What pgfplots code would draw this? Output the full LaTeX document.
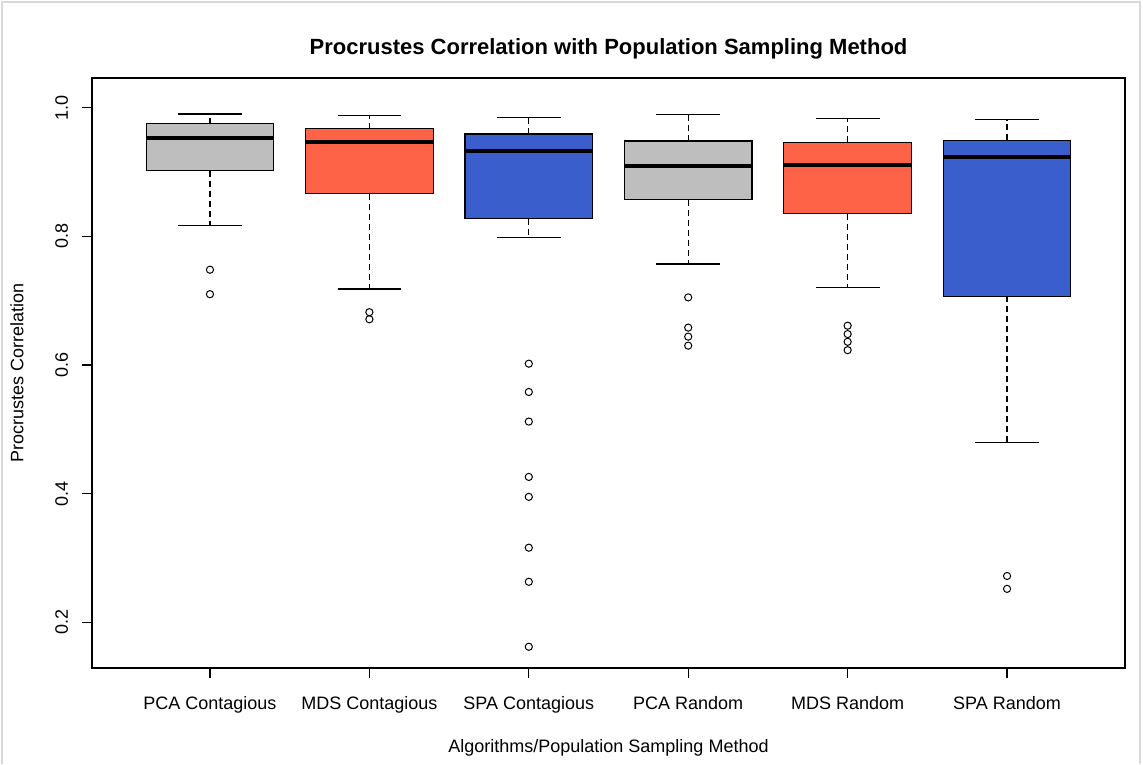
\documentclass[border=0pt]{standalone}
\usepackage{fontspec}
\setmainfont{Liberation Sans}
\usepackage{pgfplots}
\pgfplotsset{compat=1.18}
\usepgfplotslibrary{statistics}
\definecolor{rgray}{HTML}{BEBEBE}
\definecolor{rtomato}{HTML}{FF6347}
\definecolor{rblue}{HTML}{3A5FCD}
\pgfplotsset{
  rbox/.style={
    boxplot/draw direction=y,
    draw=black, line width=0.6pt, fill=#1,
    mark=o, mark size=1.8pt,
    mark options={fill=none, draw=black, line width=0.5pt, solid},
    boxplot/box extend=0.8,
    boxplot/whisker extend=0.4,
    boxplot/every median/.style={line width=2pt, black},
    boxplot/draw/lower whisker/.code={%
      \draw[black, line width=0.6pt, fill=none, dash pattern=on 3pt off 2pt]
        (boxplot box cs:\pgfplotsboxplotvalue{lower quartile},0.5)
        -- (boxplot box cs:\pgfplotsboxplotvalue{lower whisker},0.5);
      \draw[black, line width=0.6pt, fill=none]
        (boxplot whisker cs:\pgfplotsboxplotvalue{lower whisker},0)
        -- (boxplot whisker cs:\pgfplotsboxplotvalue{lower whisker},1);
    },
    boxplot/draw/upper whisker/.code={%
      \draw[black, line width=0.6pt, fill=none, dash pattern=on 3pt off 2pt]
        (boxplot box cs:\pgfplotsboxplotvalue{upper quartile},0.5)
        -- (boxplot box cs:\pgfplotsboxplotvalue{upper whisker},0.5);
      \draw[black, line width=0.6pt, fill=none]
        (boxplot whisker cs:\pgfplotsboxplotvalue{upper whisker},0)
        -- (boxplot whisker cs:\pgfplotsboxplotvalue{upper whisker},1);
    },
  }
}
\begin{document}
\begin{tikzpicture}
\useasboundingbox (0,0) rectangle (571.5pt,382pt);
\draw[gray!30, line width=0.8pt] (1pt,0pt) -- (1pt,381pt) -- (570pt,381pt) -- (570pt,0pt);
\begin{axis}[
  at={(46pt,48pt)}, anchor=south west,
  scale only axis, width=516.5pt, height=295pt,
  xmin=0.26, xmax=6.74, ymin=0.129, ymax=1.046,
  xtick={1,2,3,4,5,6},
  xticklabels={PCA Contagious, MDS Contagious, SPA Contagious, PCA Random, MDS Random, SPA Random},
  ytick={0.2,0.4,0.6,0.8,1.0},
  yticklabels={0.2,0.4,0.6,0.8,1.0},
  tick pos=left, tick align=outside, major tick length=5pt,
  axis line style={line width=0.6pt, black},
  tick style={black, line width=0.6pt},
  ticklabel style={font=\fontsize{9}{11}\selectfont},
  xticklabel style={anchor=base, yshift=-15.5pt},
  yticklabel style={rotate=90, anchor=south, yshift=3.5pt},
  title={Procrustes Correlation with Population Sampling Method},
  title style={font=\fontsize{11}{13}\bfseries, at={(rel axis cs:0.5,1)}, anchor=base, yshift=5.5pt},
  xlabel={Algorithms/Population Sampling Method},
  xlabel style={font=\fontsize{9}{11}\selectfont, at={(rel axis cs:0.5,0)}, anchor=base, yshift=-42pt},
  ylabel={Procrustes Correlation},
  ylabel style={font=\fontsize{9}{11}\selectfont, at={(rel axis cs:0,0.5)}, anchor=center, yshift=37.5pt},
  clip=false,
]
\addplot[rbox=rgray, boxplot prepared={draw position=1, lower whisker=0.817, lower quartile=0.902, median=0.953, upper quartile=0.975, upper whisker=0.990}]
  table[row sep=\\, y index=0] {0.748\\0.710\\};
\addplot[rbox=rtomato, boxplot prepared={draw position=2, lower whisker=0.718, lower quartile=0.866, median=0.946, upper quartile=0.967, upper whisker=0.988}]
  table[row sep=\\, y index=0] {0.682\\0.671\\};
\addplot[rbox=rblue, boxplot prepared={draw position=3, lower whisker=0.798, lower quartile=0.827, median=0.932, upper quartile=0.959, upper whisker=0.985}]
  table[row sep=\\, y index=0] {0.602\\0.558\\0.512\\0.426\\0.395\\0.316\\0.263\\0.162\\};
\addplot[rbox=rgray, boxplot prepared={draw position=4, lower whisker=0.757, lower quartile=0.857, median=0.909, upper quartile=0.948, upper whisker=0.989}]
  table[row sep=\\, y index=0] {0.705\\0.658\\0.644\\0.630\\};
\addplot[rbox=rtomato, boxplot prepared={draw position=5, lower whisker=0.720, lower quartile=0.835, median=0.911, upper quartile=0.946, upper whisker=0.983}]
  table[row sep=\\, y index=0] {0.661\\0.648\\0.636\\0.623\\};
\addplot[rbox=rblue, boxplot prepared={draw position=6, lower whisker=0.479, lower quartile=0.707, median=0.923, upper quartile=0.949, upper whisker=0.981}]
  table[row sep=\\, y index=0] {0.272\\0.252\\};
\end{axis}
\end{tikzpicture}
\end{document}
